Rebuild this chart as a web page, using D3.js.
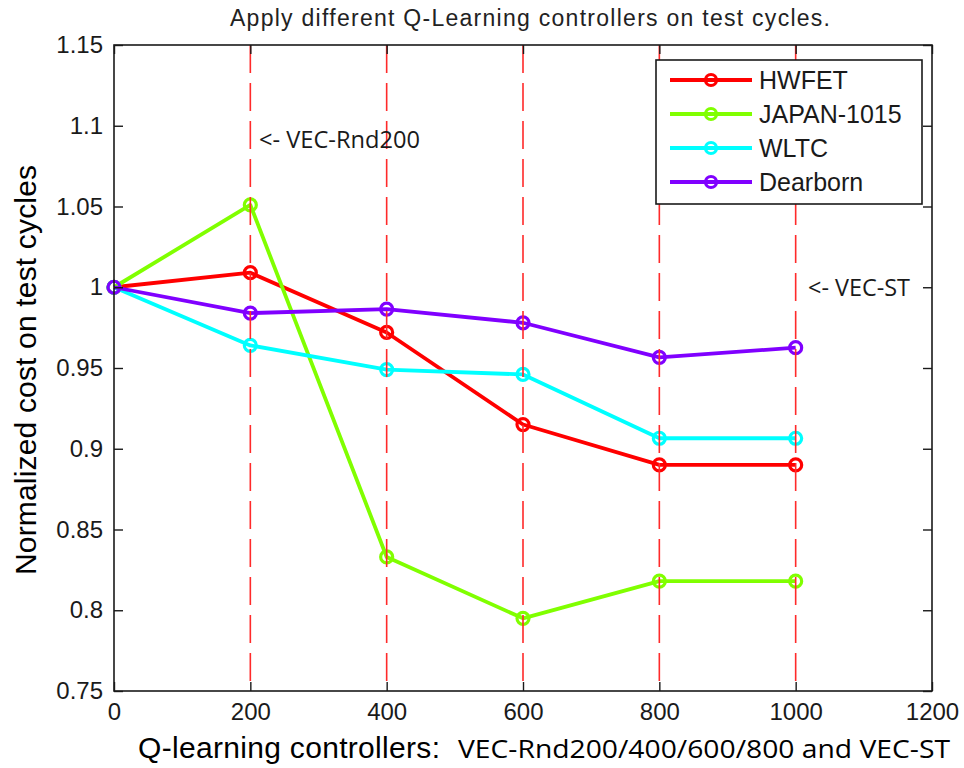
<!DOCTYPE html>
<html>
<head>
<meta charset="utf-8">
<script src="https://cdn.jsdelivr.net/npm/d3@7"></script>
<style>
  html, body { margin: 0; padding: 0; background: #fff; }
  svg { display: block; }
</style>
</head>
<body>
<svg id="chart" width="964" height="768"></svg>
<script>
// Controller index on the x axis (VEC-Rnd200/400/600/800, VEC-ST at 1000)
const steps = [0, 200, 400, 600, 800, 1000];

// Normalized cost of each test cycle
const hwfet    = [1.000, 1.009, 0.972, 0.915, 0.890, 0.890];
const japan    = [1.000, 1.051, 0.833, 0.795, 0.818, 0.818];
const wltc     = [1.000, 0.964, 0.949, 0.946, 0.9065, 0.9065];
const dearborn = [1.000, 0.984, 0.9865, 0.978, 0.9566, 0.9626];

const seriesNames  = ["HWFET", "JAPAN-1015", "WLTC", "Dearborn"];
const seriesColors = ["#ff0000", "#80ff00", "#00ffff", "#8000ff"];

// Dashed reference lines at each trained controller
const markerLines = [200, 400, 600, 800, 1000];

// Axis ticks and labels
const xTicks = [0, 200, 400, 600, 800, 1000, 1200];
const yTicks = [0.75, 0.8, 0.85, 0.9, 0.95, 1.0, 1.05, 1.1, 1.15];
const yTickLabels = ["0.75", "0.8", "0.85", "0.9", "0.95", "1", "1.05", "1.1", "1.15"];

const allSeries = [hwfet, japan, wltc, dearborn];

const svg = d3.select("#chart");
const L = 114, R = 932, T = 45, B = 691;

const x = d3.scaleLinear().domain([0, 1200]).range([L, R]);
const y = d3.scaleLinear().domain([0.75, 1.15]).range([B, T]);

const axisColor = "#1a1a1a";
const tickFont = "'Liberation Sans', Arial, sans-serif";
const segoeLike = "'Open Sans', 'Noto Sans', sans-serif";

// Plot background
svg.append("rect").attr("x", L).attr("y", T).attr("width", R - L).attr("height", B - T)
  .attr("fill", "#fff");

// Data lines with hollow circle markers
const line = d3.line().x((d, i) => x(steps[i])).y(d => y(d));
const plot = svg.append("g");
allSeries.forEach((vals, s) => {
  plot.append("path").datum(vals)
    .attr("d", line)
    .attr("fill", "none")
    .attr("stroke", seriesColors[s])
    .attr("stroke-width", 3.8)
    .attr("stroke-linejoin", "round");
  plot.selectAll(null).data(vals).enter().append("circle")
    .attr("cx", (d, i) => x(steps[i]))
    .attr("cy", d => y(d))
    .attr("r", 6)
    .attr("fill", "none")
    .attr("stroke", seriesColors[s])
    .attr("stroke-width", 3.2);
});

// Vertical dashed markers
svg.append("g").selectAll("line").data(markerLines).enter().append("line")
  .attr("x1", d => x(d)).attr("x2", d => x(d))
  .attr("y1", T).attr("y2", B)
  .attr("stroke", "#ff2a2a")
  .attr("stroke-width", 1.6)
  .attr("stroke-dasharray", "28,10");

// Axes (ticks pointing inward on all sides)
const xAxis = d3.axisBottom(x).tickValues(xTicks).tickFormat(d3.format("d"))
  .tickSizeInner(-9).tickSizeOuter(0).tickPadding(12);
const yAxis = d3.axisLeft(y).tickValues(yTicks).tickFormat((d, i) => yTickLabels[i])
  .tickSizeInner(-9).tickSizeOuter(0).tickPadding(11);
const xTop = d3.axisTop(x).tickValues(xTicks).tickFormat("").tickSizeInner(-9).tickSizeOuter(0);
const yRight = d3.axisRight(y).tickValues(yTicks).tickFormat("").tickSizeInner(-9).tickSizeOuter(0);

function styleAxis(g) {
  g.select(".domain").remove();
  g.selectAll(".tick line").attr("stroke", axisColor).attr("stroke-width", 1.4);
  g.selectAll(".tick text").attr("fill", axisColor)
    .style("font-family", tickFont).style("font-size", "24px");
}
svg.append("g").attr("transform", `translate(0,${B})`).call(xAxis).call(styleAxis);
svg.append("g").attr("transform", `translate(${L},0)`).call(yAxis).call(styleAxis);
svg.append("g").attr("transform", `translate(0,${T})`).call(xTop).call(styleAxis);
svg.append("g").attr("transform", `translate(${R},0)`).call(yRight).call(styleAxis);

// Axes frame
svg.append("rect").attr("x", L).attr("y", T).attr("width", R - L).attr("height", B - T)
  .attr("fill", "none").attr("stroke", axisColor).attr("stroke-width", 1.6);

// Legend
const lg = svg.append("g");
lg.append("rect").attr("x", 656).attr("y", 60).attr("width", 266).attr("height", 144)
  .attr("fill", "#fff").attr("stroke", axisColor).attr("stroke-width", 1.6);
seriesNames.forEach((name, i) => {
  const ry = 80 + i * 34;
  lg.append("line").attr("x1", 670).attr("x2", 752).attr("y1", ry).attr("y2", ry)
    .attr("stroke", seriesColors[i]).attr("stroke-width", 3.8);
  lg.append("circle").attr("cx", 711).attr("cy", ry).attr("r", 5.5)
    .attr("fill", "none").attr("stroke", seriesColors[i]).attr("stroke-width", 3.2);
  lg.append("text").attr("x", 759).attr("y", ry + 9)
    .attr("fill", axisColor)
    .style("font-family", tickFont).style("font-size", "25px")
    .text(name);
});

// Annotations
svg.append("text").attr("x", 259).attr("y", 148)
  .attr("fill", axisColor).style("font-family", segoeLike).style("font-size", "23px")
  .attr("textLength", 161).attr("lengthAdjust", "spacingAndGlyphs")
  .text("<- VEC-Rnd200");
svg.append("text").attr("x", 808).attr("y", 296)
  .attr("fill", axisColor).style("font-family", segoeLike).style("font-size", "23px")
  .attr("textLength", 102).attr("lengthAdjust", "spacingAndGlyphs")
  .text("<- VEC-ST");

// Title
svg.append("text").attr("x", 530).attr("y", 26).attr("text-anchor", "middle")
  .attr("fill", "#222").style("font-family", tickFont).style("font-size", "23px")
  .attr("textLength", 600).attr("lengthAdjust", "spacing")
  .text("Apply different Q-Learning controllers on test cycles.");

// Axis titles
svg.append("text").attr("x", 138).attr("y", 758)
  .attr("fill", "#000").style("font-family", tickFont).style("font-size", "30px")
  .attr("textLength", 302).attr("lengthAdjust", "spacing")
  .text("Q-learning controllers:");
svg.append("text").attr("x", 458).attr("y", 758)
  .attr("fill", "#000").style("font-family", segoeLike).style("font-size", "26px")
  .attr("textLength", 492).attr("lengthAdjust", "spacingAndGlyphs")
  .text("VEC-Rnd200/400/600/800 and VEC-ST");
svg.append("text")
  .attr("transform", "translate(36,370) rotate(-90)")
  .attr("text-anchor", "middle")
  .attr("fill", "#000").style("font-family", tickFont).style("font-size", "30px")
  .attr("textLength", 410).attr("lengthAdjust", "spacing")
  .text("Normalized cost on test cycles");
</script>
</body>
</html>
